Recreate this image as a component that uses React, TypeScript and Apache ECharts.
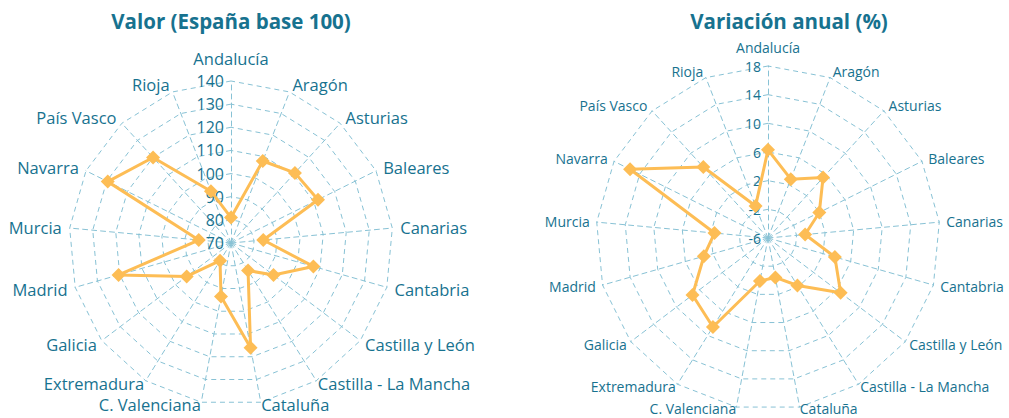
import React, { useEffect, useRef } from 'react';
import * as echarts from 'echarts';

const regions = [
  'Andalucía', 'Aragón', 'Asturias', 'Baleares', 'Canarias', 'Cantabria',
  'Castilla y León', 'Castilla - La Mancha', 'Cataluña', 'C. Valenciana',
  'Extremadura', 'Galicia', 'Madrid', 'Murcia', 'Navarra', 'País Vasco', 'Rioja',
];
const valor = [81, 108, 111, 112, 84, 107, 93, 84, 116, 93.5, 79, 94, 120.5, 84, 129.5, 120, 94];
const variacion = [6.3, 2.8, 5.4, 2, -0.8, 3.7, 6.7, 1.8, -0.4, 0.1, 8.6, 7.2, 3.3, 1.5, 15.5, 7.4, -1.2];

const valorAxis = { min: 70, max: 140, step: 10 };
const variacionAxis = { min: -6, max: 18, step: 4 };

const titles = ['Valor (España base 100)', 'Variación anual (%)'];

const TEXT = '#17728f';
const GRID = '#88c2d5';
const LINE = '#fdbd55';
const FONT = 'Open Sans';

// ECharts lays indicators counter-clockwise; reorder so they run clockwise
const order = [0, ...regions.map((_, i) => i).slice(1).reverse()];
// label gap tweaks (lower labels sit closer to the web, as in the reference)
const gapScale: Record<string, number> = {
  'Andalucía': 1.7,
  'Galicia': 0.7,
  'Castilla y León': 0.7,
  'Extremadura': 0.4,
  'Castilla - La Mancha': 0.4,
  'Cataluña': 0.2,
  'C. Valenciana': 0.2,
};

function makeRadar(
  axis: { min: number; max: number; step: number },
  center: number[], radius: number, nameSize: number, labelSize: number, nameGap: number,
) {
  return {
    center,
    radius,
    startAngle: 90,
    shape: 'polygon',
    splitNumber: (axis.max - axis.min) / axis.step,
    nameGap,
    axisName: { color: TEXT, fontSize: nameSize, fontFamily: FONT },
    splitLine: { lineStyle: { color: GRID, type: [5, 4], width: 1 } },
    splitArea: { show: false },
    axisLine: { lineStyle: { color: GRID, type: [5, 4], width: 1 } },
    axisTick: { show: false },
    axisLabel: { show: false },
    indicator: order.map((i, k) => ({
      name: regions[i],
      min: axis.min,
      max: axis.max,
      nameGap: Math.round(nameGap * (gapScale[regions[i]] ?? 1)),
      ...(k === 0
        ? { axisLabel: { show: true, color: TEXT, fontSize: labelSize, fontFamily: FONT, margin: 7, showMinLabel: true } }
        : {}),
    })),
  };
}

export default function App() {
  const ref = useRef<HTMLDivElement>(null);
  useEffect(() => {
    if (!ref.current) return;
    const chart = echarts.init(ref.current, undefined, { renderer: 'svg' });
    const seriesStyle = {
      symbol: 'diamond',
      symbolSize: 14,
      lineStyle: { color: LINE, width: 3 },
      itemStyle: { color: LINE },
    };
    chart.setOption({
      animation: false,
      backgroundColor: '#ffffff',
      title: [
        { text: titles[0], left: 226, top: 5, textAlign: 'center', textStyle: { color: TEXT, fontSize: 20.5, fontWeight: 'bold', fontFamily: FONT } },
        { text: titles[1], left: 784, top: 5, textAlign: 'center', textStyle: { color: TEXT, fontSize: 20.5, fontWeight: 'bold', fontFamily: FONT } },
      ],
      radar: [
        makeRadar(valorAxis, [231, 243], 162, 16.5, 16, 8),
        makeRadar(variacionAxis, [768, 238], 172, 14, 14, 7),
      ],
      series: [
        { type: 'radar', radarIndex: 0, ...seriesStyle, data: [{ value: order.map((i) => valor[i]), name: titles[0] }] },
        { type: 'radar', radarIndex: 1, ...seriesStyle, data: [{ value: order.map((i) => variacion[i]), name: titles[1] }] },
      ],
    });
    return () => chart.dispose();
  }, []);
  return <div ref={ref} style={{ position: 'absolute', left: 0, top: 0, width: 1009, height: 418 }} />;
}
